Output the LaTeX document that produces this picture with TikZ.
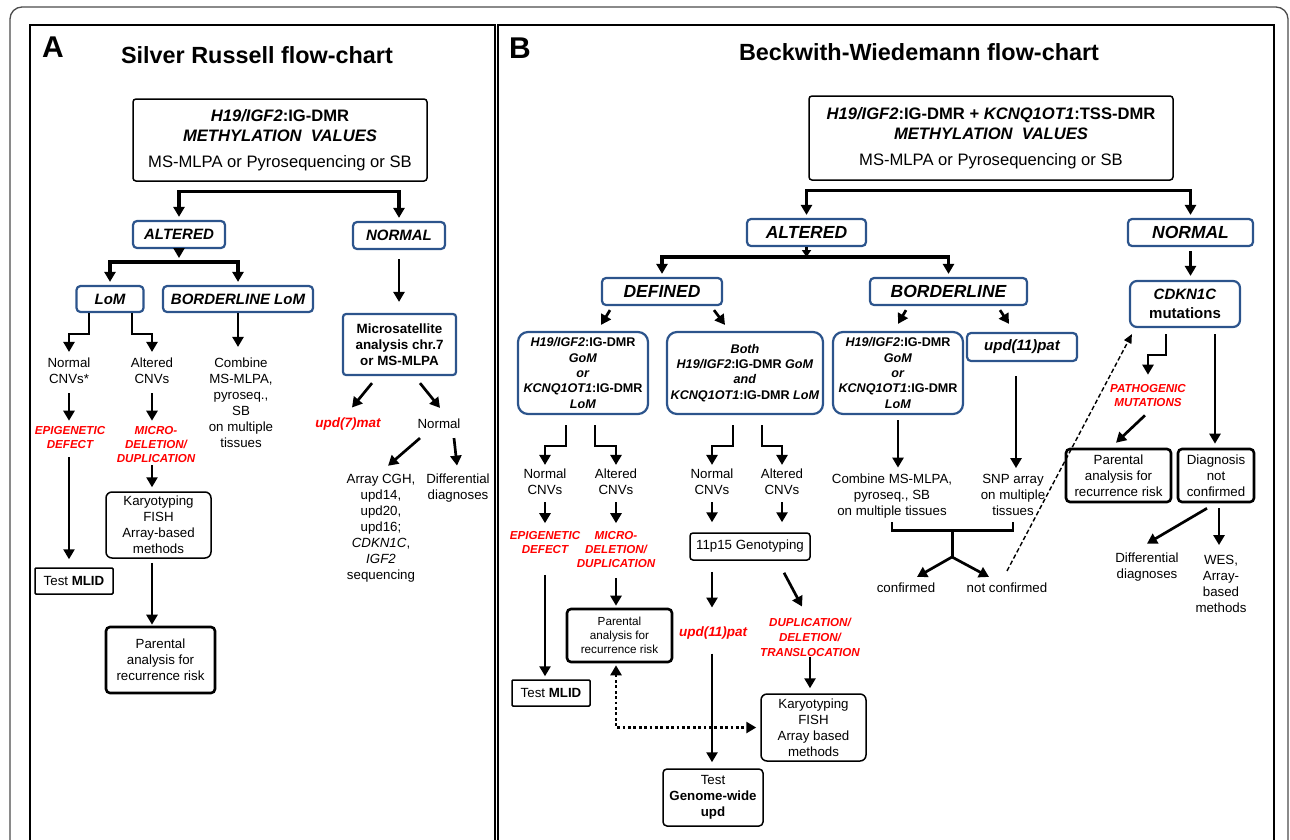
\documentclass[tikz,border=0pt]{standalone}
\usepackage{fontspec}
\setmainfont{Liberation Sans}
\usetikzlibrary{arrows.meta}

\definecolor{boxblue}{RGB}{44,84,140}
\newcommand{\setfs}[2]{\fontsize{#1}{#2}\selectfont}

\tikzset{
  every node/.style={inner sep=0pt, align=center, font=\setfs{13.3}{16}},
  bluebox/.style={draw=boxblue, line width=2.2pt, rounded corners=4pt, font=\bfseries\itshape\setfs{15}{18}},
  bigbox/.style={bluebox, font=\bfseries\itshape\setfs{17.5}{20}},
  dmrbox/.style={bluebox, rounded corners=10pt, font=\bfseries\setfs{12.6}{15.3}, minimum height=82pt},
  blackbox/.style={draw, line width=1.5pt, rounded corners=3pt},
  roundbox/.style={draw, line width=1.5pt, rounded corners=6pt},
  thickbox/.style={draw, line width=2.6pt, rounded corners=4pt},
  redtext/.style={text=red, font=\bfseries\itshape\setfs{11.6}{14}},
  arr/.style={-{Triangle[length=10pt,width=11pt]}, line width=2.7pt},
  twoarr/.style={{Triangle[length=10pt,width=11pt]}-{Triangle[length=10pt,width=11pt]}, line width=3.2pt, shorten <=3pt, shorten >=3pt},
  dotarr/.style={{Triangle[length=10pt,width=11pt]}-{Triangle[length=10pt,width=11pt]}, line width=2.8pt, dash pattern=on 2.8pt off 2.6pt, shorten <=2pt, shorten >=4pt},
  dasharr/.style={-{Triangle[length=9pt,width=8pt]}, line width=1.4pt, dash pattern=on 4.5pt off 2.5pt},
}

\begin{document}
\begin{tikzpicture}[x=1pt, y=-1pt]
  \useasboundingbox (0,0) rectangle (1290,839);
  \clip (0,0) rectangle (1290,839);

  % frames
  \draw[line width=1.3pt, draw=black!70, rounded corners=12pt] (10,7) rectangle (1288,880);
  \draw[line width=2pt] (30,25) rectangle (495,880);
  \draw[line width=2pt] (498,25) rectangle (1274,880);

  % panel A
  \node (labA) at (53,47) {\bfseries\setfs{30}{30}A};
  \node (titA) at (257,55) {\bfseries\setfs{23.4}{26}Silver Russell flow-chart};
  \node (hdrA) [blackbox, minimum width=294pt, minimum height=82pt, font=\bfseries\setfs{16.6}{20}] at (280,140)
    {\textit{H19/IGF2}:IG-DMR\\\textit{METHYLATION~~VALUES}\\[6pt]\mdseries MS-MLPA or Pyrosequencing or SB};
  \node (altA) [bluebox, minimum width=92pt, minimum height=27pt] at (179,234.5) {ALTERED};
  \node (norA) [bluebox, minimum width=92pt, minimum height=27pt] at (399,235.5) {NORMAL};
  \node (lomA) [bluebox, minimum width=67pt, minimum height=26pt] at (110,299) {LoM};
  \node (blA)  [bluebox, minimum width=150pt, minimum height=26pt] at (238,299) {BORDERLINE LoM};
  \node (msA)  [bluebox, rounded corners=3pt, font=\bfseries\setfs{13.4}{16}, minimum width=113pt, minimum height=61pt] at (399.5,344.5)
    {Microsatellite\\analysis chr.7\\or MS-MLPA};
  \node (ncA) at (69,371) {Normal\\CNVs*};
  \node (acA) at (152,371) {Altered\\CNVs};
  \node (cbA) at (241,403) {Combine\\MS-MLPA,\\pyroseq.,\\SB\\on multiple\\tissues};
  \node (epA) [redtext] at (70,437) {EPIGENETIC\\DEFECT};
  \node (mdA) [redtext] at (156,444) {MICRO-\\DELETION/\\DUPLICATION};
  \node (kaA) [roundbox, minimum width=105pt, minimum height=66pt] at (158.5,525) {Karyotyping\\FISH\\Array-based\\methods};
  \node (paA) [thickbox, minimum width=109pt, minimum height=66pt] at (160.5,660) {Parental\\analysis for\\recurrence risk};
  \node (mlA) [blackbox, rounded corners=1pt, minimum width=78pt, minimum height=26pt] at (74,581) {Test \textbf{MLID}};
  \node (u7A) [redtext, font=\bfseries\itshape\setfs{13.5}{16}] at (348,424) {upd(7)mat};
  \node (n7A) at (439,424) {Normal};
  \node (cgA) at (381,528) {Array CGH,\\upd14,\\upd20,\\upd16;\\\textit{CDKN1C},\\\textit{IGF2}\\sequencing};
  \node (dfA) at (458,488) {Differential\\diagnoses};

  \coordinate (jA) at (179,262);
  \draw[twoarr] (altA.north) |- ([yshift=-10pt]hdrA.south) -| (norA.north);
  \draw[arr, shorten >=4pt] (altA) -- (jA);
  \draw[twoarr] (lomA.north) |- (jA) -| (blA.north);
  \draw[arr, shorten <=9pt, shorten >=11pt] (norA) -- (norA.south |- msA.north);
  \draw[arr, shorten >=6pt] ([xshift=-21pt]lomA.south) -- ++(0,21) -| (ncA.north);
  \draw[arr, shorten >=6pt] ([xshift=22pt]lomA.south) -- ++(0,21) -| (acA.north);
  \draw[arr, shorten >=11pt] (blA.south) -- (blA.south |- cbA.north);
  \draw[arr, shorten <=9pt, shorten >=5pt] (ncA.south) -- (ncA.south |- epA.north);
  \draw[arr, shorten <=9pt, shorten >=5pt] (acA.south) -- (acA.south |- mdA.north);
  \draw[arr, shorten <=3pt, shorten >=4pt] (mdA.south -| acA) -- (kaA.north -| acA);
  \draw[arr, shorten <=4pt, shorten >=1pt] (kaA.south -| acA) -- (paA.north -| acA);
  \draw[arr, shorten <=9pt, shorten >=8pt] (epA.south -| ncA) -- (mlA.north -| ncA);
  \path[arr]
    ([xshift=-27.5pt,yshift=-7pt]msA.south) edge ([xshift=4pt,yshift=10pt]u7A.north)
    ([xshift=20.5pt,yshift=-7pt]msA.south)  edge ([xshift=1pt,yshift=11pt]n7A.north)
    ([xshift=-19pt,yshift=-9pt]n7A.south)   edge ([xshift=7pt,yshift=8pt]cgA.north)
    ([xshift=15pt,yshift=-9pt]n7A.south)    edge ([xshift=-1pt,yshift=8pt]dfA.north);

  % panel B
  \node (labB) at (520,48) {\bfseries\setfs{30}{30}B};
  \node (titB) at (919,52) {\bfseries\setfs{23.4}{26}Beckwith-Wiedemann flow-chart};
  \node (hdrB) [blackbox, minimum width=364pt, minimum height=84pt, font=\bfseries\setfs{16.6}{20}] at (991,138)
    {\textit{H19/IGF2}:IG-DMR + \textit{KCNQ1OT1}:TSS-DMR\\\textit{METHYLATION~~VALUES}\\[6pt]\mdseries MS-MLPA or Pyrosequencing or SB};
  \node (altB) [bigbox, minimum width=119pt, minimum height=27pt] at (806.5,232.5) {ALTERED};
  \node (norB) [bigbox, minimum width=125pt, minimum height=27pt] at (1190.5,232.5) {NORMAL};
  \node (defB) [bigbox, minimum width=120pt, minimum height=27pt] at (662,291.5) {DEFINED};
  \node (blB)  [bigbox, minimum width=157pt, minimum height=27pt] at (948.5,291.5) {BORDERLINE};
  \node (cdkB) [bluebox, rounded corners=7pt, font=\bfseries\setfs{15}{19}, minimum width=110pt, minimum height=46pt] at (1185,304)
    {\textit{CDKN1C}\\mutations};
  \node (d1B) [dmrbox, minimum width=130pt] at (583,373)
    {\textit{H19/IGF2}:IG-DMR\\\textit{GoM}\\\textit{or}\\\textit{KCNQ1OT1}:IG-DMR\\\textit{LoM}};
  \node (d2B) [dmrbox, minimum width=156pt] at (745,373)
    {\textit{Both}\\\textit{H19/IGF2}:IG-DMR \textit{GoM}\\\textit{and}\\\textit{KCNQ1OT1}:IG-DMR \textit{LoM}};
  \node (b1B) [dmrbox, minimum width=130pt] at (898,373)
    {\textit{H19/IGF2}:IG-DMR\\\textit{GoM}\\\textit{or}\\\textit{KCNQ1OT1}:IG-DMR\\\textit{LoM}};
  \node (upB) [bluebox, minimum width=110pt, minimum height=28pt] at (1022,347) {upd(11)pat};

  \node (ncB) at (545,482) {Normal\\CNVs};
  \node (acB) at (616,482) {Altered\\CNVs};
  \node (ncC) at (712,482) {Normal\\CNVs};
  \node (acC) at (782,482) {Altered\\CNVs};
  \node (epB) [redtext] at (545,542.5) {EPIGENETIC\\DEFECT};
  \node (mdB) [redtext] at (616,549.5) {MICRO-\\DELETION/\\DUPLICATION};
  \node (gtB) [blackbox, minimum width=120pt, minimum height=27pt] at (750,546.5) {11p15 Genotyping};
  \node (mlB) [blackbox, rounded corners=1pt, minimum width=78pt, minimum height=26pt] at (551,693) {Test \textbf{MLID}};
  \node (paB) [thickbox, font=\setfs{11.7}{14}, minimum width=105pt, minimum height=53pt] at (619.5,635.5) {Parental\\analysis for\\recurrence risk};
  \node (u11B) [redtext, font=\bfseries\itshape\setfs{13.5}{16}] at (713,633) {upd(11)pat};
  \node (dpB) [redtext, font=\bfseries\itshape\setfs{11.6}{15}] at (810,637) {DUPLICATION/\\DELETION/\\TRANSLOCATION};
  \node (kaB) [roundbox, minimum width=105pt, minimum height=67pt] at (813.5,727.5) {Karyotyping\\FISH\\Array based\\methods};
  \node (gwB) [roundbox, rounded corners=4pt, minimum width=100pt, minimum height=57pt] at (713,797.5) {Test\\\textbf{Genome-wide}\\\textbf{upd}};
  \node (cbB) at (892,496) {Combine MS-MLPA,\\pyroseq., SB\\on multiple tissues};
  \node (snB) at (1013,495) {SNP array\\on multiple\\tissues};
  \node (cfB) at (906,588) {confirmed};
  \node (ncfB) at (1007,588) {not confirmed};
  \node (pgB) [redtext] at (1148,395) {PATHOGENIC\\MUTATIONS};
  \node (paR) [thickbox, minimum width=105pt, minimum height=53pt] at (1118.5,475.5) {Parental\\analysis for\\recurrence risk};
  \node (dgR) [thickbox, minimum width=76pt, minimum height=53pt] at (1216,475.5) {Diagnosis\\not\\confirmed};
  \node (dfB) at (1147,567) {Differential\\diagnoses};
  \node (wsB) at (1221,584) {WES,\\Array-\\based\\methods};

  \coordinate (jB) at (806.5,257);
  \draw[twoarr] (altB.north) |- ([yshift=-10pt]hdrB.south) -| (norB.north);
  \draw[-{Triangle[length=7pt,width=9pt]}, line width=2.7pt] (altB) -- (jB);
  \draw[twoarr] (defB.north) |- (jB) -| (blB.north);
  \draw[arr, shorten <=4pt, shorten >=4pt] (norB) -- (norB.south |- cdkB.north);
  \path[arr]
    ([xshift=-52pt,yshift=-4pt]defB.south)  edge ([xshift=18pt,yshift=6pt]d1B.north)
    ([xshift=52pt,yshift=-4pt]defB.south)   edge ([xshift=-20pt,yshift=6pt]d2B.north)
    ([xshift=-42.5pt,yshift=-4pt]blB.south) edge ([yshift=7pt]b1B.north)
    ([xshift=51.5pt,yshift=-4pt]blB.south)  edge ([xshift=-13pt,yshift=8pt]upB.north);
  \draw[arr, shorten >=4pt] ([xshift=-17pt,yshift=-10pt]d1B.south) -- ++(0,21) -| (ncB.north);
  \draw[arr, shorten >=4pt] ([xshift=12pt,yshift=-10pt]d1B.south) -- ++(0,21) -| (acB.north);
  \draw[arr, shorten >=4pt] ([xshift=-12pt,yshift=-10pt]d2B.south) -- ++(0,21) -| (ncC.north);
  \draw[arr, shorten >=4pt] ([xshift=17pt,yshift=-10pt]d2B.south) -- ++(0,21) -| (acC.north);
  \draw[arr, shorten <=7pt, shorten >=8pt] (ncB.south) -- (ncB.south |- epB.north);
  \draw[arr, shorten <=7pt, shorten >=8pt] (acB.south) -- (acB.south |- mdB.north);
  \draw[arr, shorten <=7pt, shorten >=10pt] (ncC.south) -- (ncC.south |- gtB.north);
  \draw[arr, shorten <=7pt, shorten >=10pt] (acC.south) -- (acC.south |- gtB.north);
  \draw[arr, shorten <=21pt, shorten >=3pt] (epB.south) -- (epB.south |- mlB.north);
  \draw[arr, shorten <=10pt, shorten >=2pt] (mdB.south) -- (mdB.south |- paB.north);
  \draw[arr, shorten <=11pt, shorten >=19pt] (gtB.south -| ncC) -- (u11B.north -| ncC);
  \draw[arr] ([xshift=34pt,yshift=-12pt]gtB.south) -- ([xshift=-8pt,yshift=11pt]dpB.north);
  \draw[arr, shorten <=1pt, shorten >=5pt] (dpB.south) -- (dpB.south |- kaB.north);
  \draw[arr, shorten <=14pt, shorten >=6pt] (u11B.south -| ncC) -- (gwB.north -| ncC);
  \draw[dotarr] ([xshift=-3.5pt]paB.south) |- (kaB.west);

  \draw[arr, shorten <=5pt, shorten >=6pt] (b1B.south) -- (b1B.south |- cbB.north);
  \draw[arr, shorten <=14pt, shorten >=6pt] ([xshift=-6pt]upB.south) -- ([xshift=-6pt]upB.south |- snB.north);
  \draw[line width=2.7pt] ([yshift=-4pt]cbB.south) -- ++(0,8) -| ([yshift=-6pt]snB.south);
  \coordinate (jC) at (952,530);
  \draw[line width=3pt] (jC) -- ++(0,27) coordinate (jD);
  \draw[arr] (jD) -- ([xshift=11pt,yshift=6pt]cfB.north);
  \draw[arr] (jD) -- ([xshift=-18pt,yshift=6pt]ncfB.north);
  \draw[dasharr] ([yshift=12pt]ncfB.north) -- ([xshift=3pt,yshift=-6pt]cdkB.south west);

  \draw[arr, shorten >=9pt] ([xshift=-19pt,yshift=-6pt]cdkB.south) -- ++(0,21) -| (pgB.north);
  \draw[arr] ([xshift=-3pt,yshift=-9pt]pgB.south) -- ([xshift=-2.5pt,yshift=5pt]paR.north);
  \draw[arr, shorten >=4pt] ([xshift=30pt,yshift=-6pt]cdkB.south) -- ([xshift=30pt]cdkB.south |- dgR.north);
  \draw[arr] ([xshift=-9pt,yshift=-5pt]dgR.south) -- ([yshift=9pt]dfB.north);
  \draw[arr, shorten >=10pt] ([xshift=3pt,yshift=-5pt]dgR.south) -- ([xshift=3pt]dgR.south |- wsB.north);
\end{tikzpicture}
\end{document}
